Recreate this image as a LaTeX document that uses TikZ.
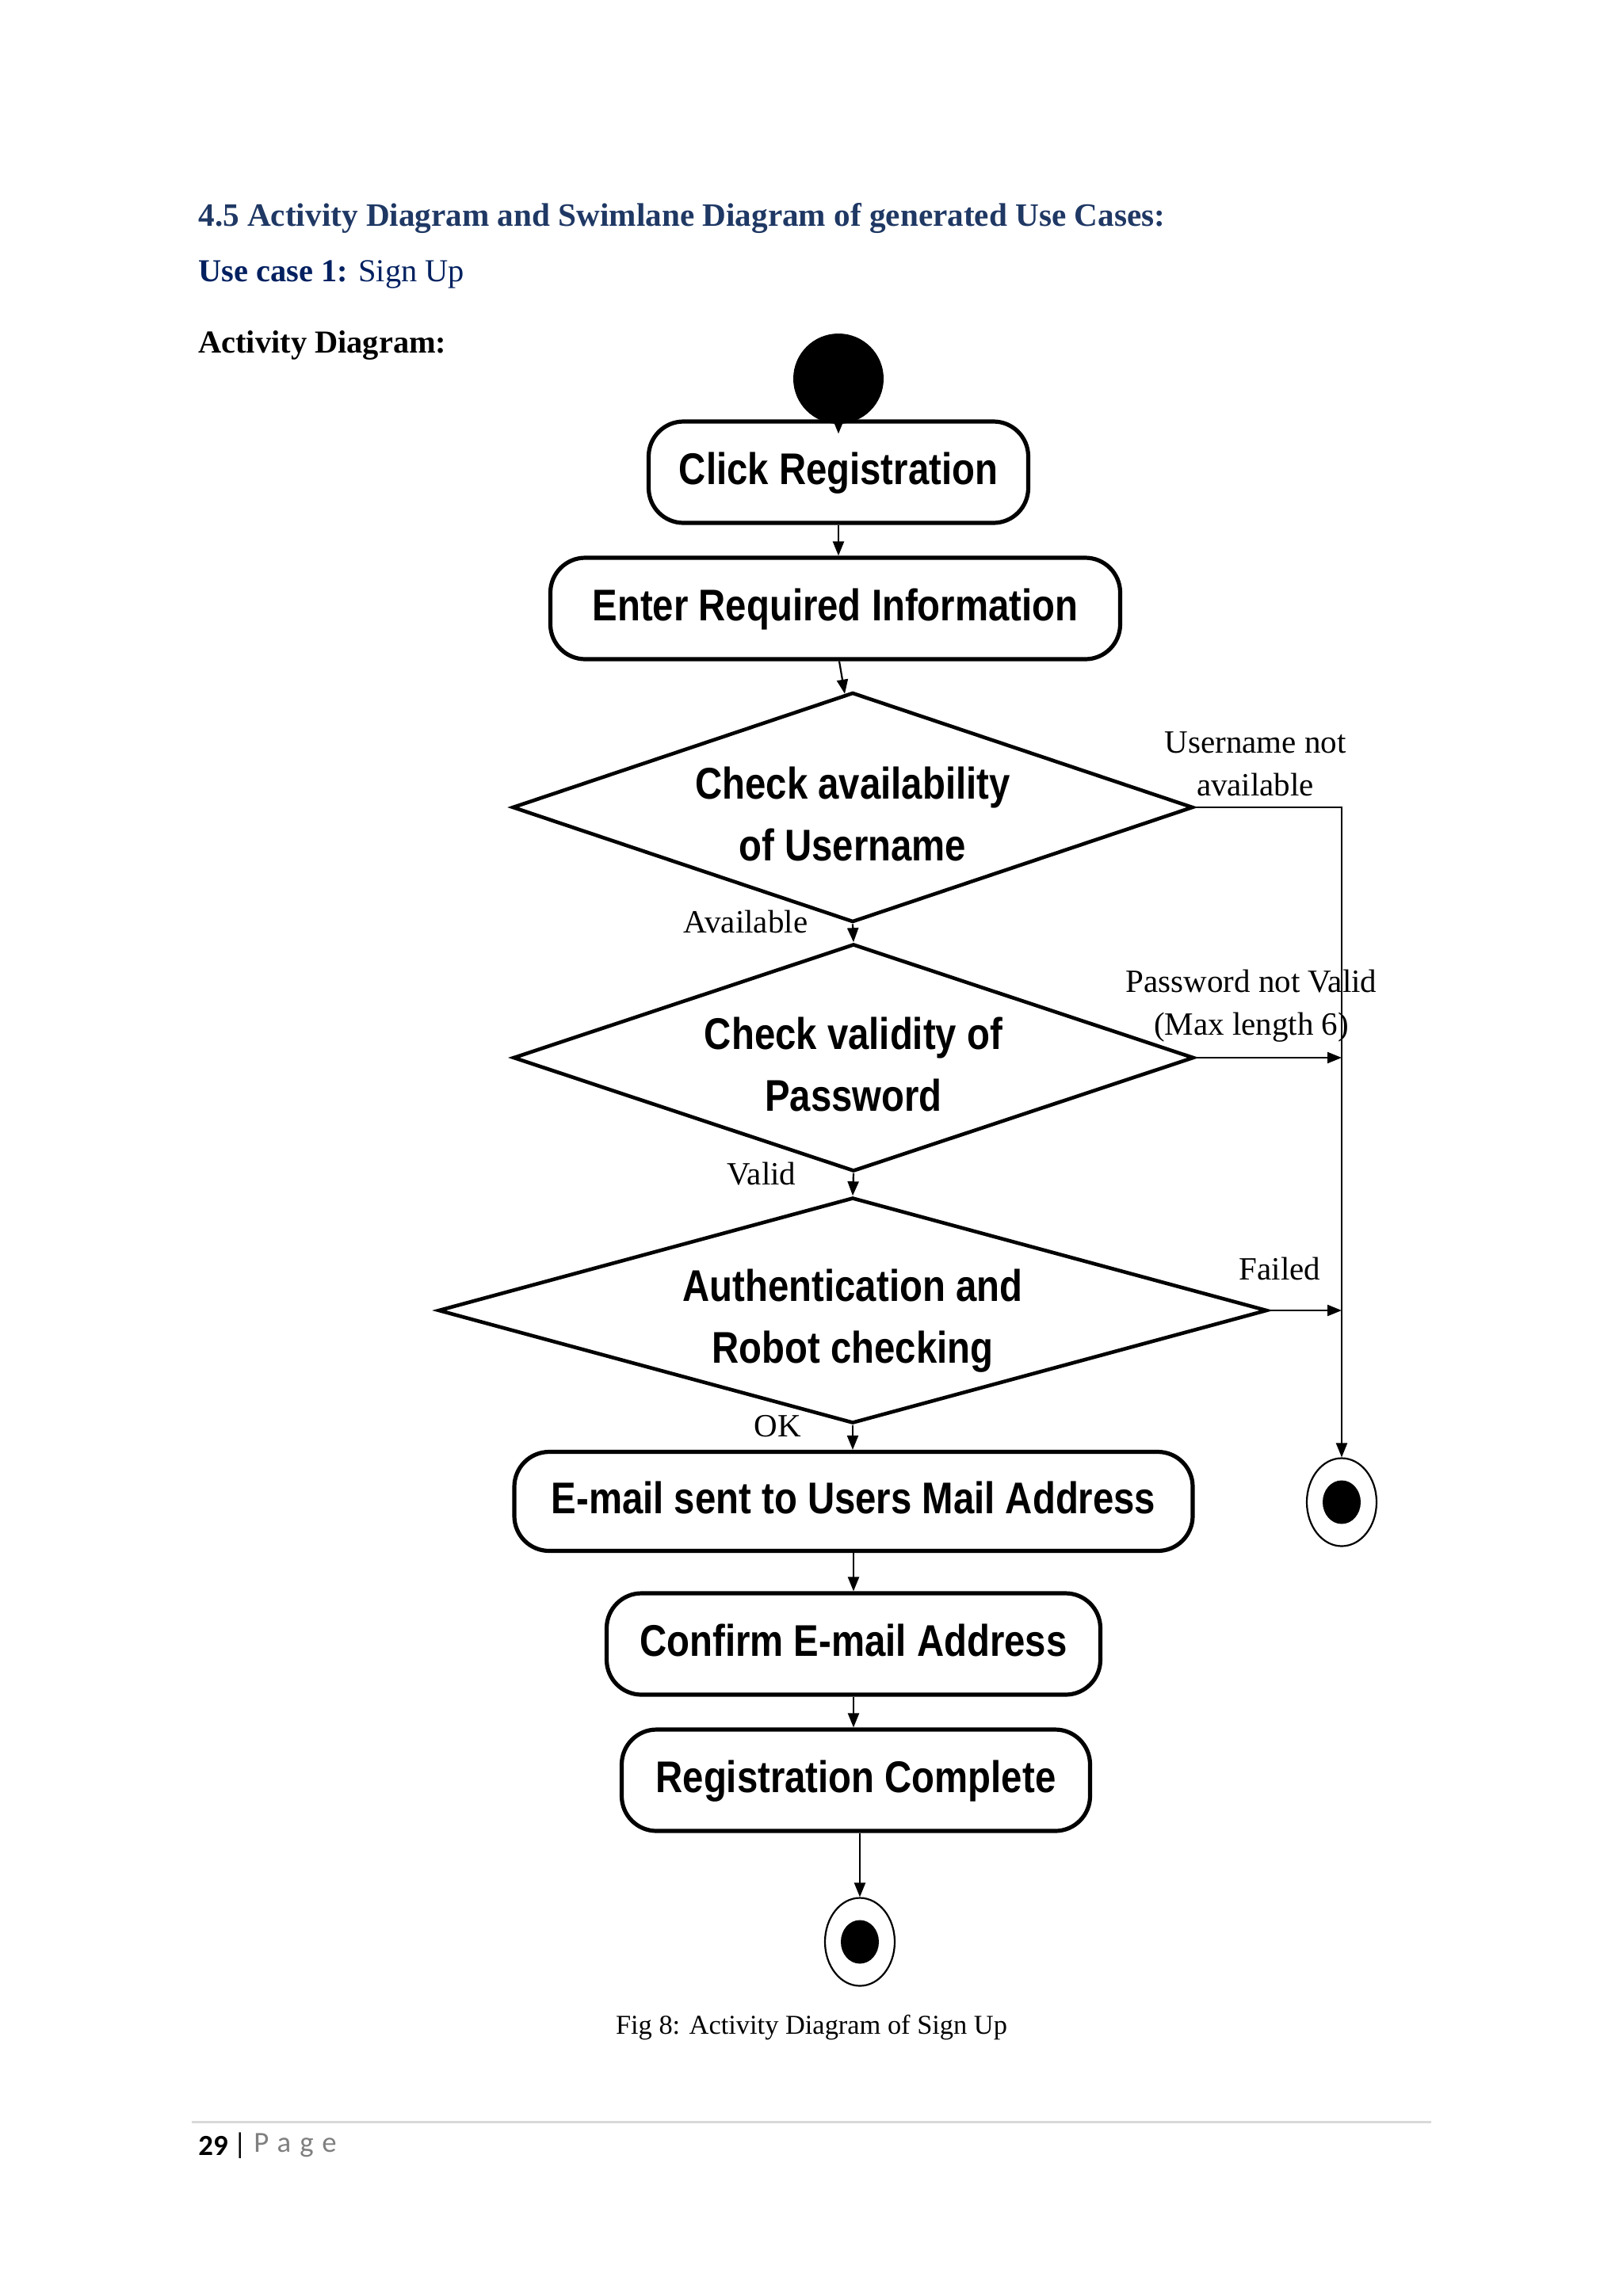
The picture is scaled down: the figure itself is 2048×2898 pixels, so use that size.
\documentclass[tikz,border=0pt]{standalone}
\usepackage{fontspec}
\setmainfont{Liberation Serif}
\newfontfamily\diag[FakeStretch=0.845]{Liberation Sans}
\newfontfamily\footfont{Carlito}
\newfontfamily\footspaced[LetterSpace=30]{Carlito}
\usetikzlibrary{shapes.geometric,arrows.meta,calc}
\definecolor{headblue}{RGB}{31,56,100}
\definecolor{ucblue}{RGB}{0,32,96}
\definecolor{pagegray}{RGB}{127,127,127}
\definecolor{rulegray}{RGB}{217,217,217}
\begin{document}
\begin{tikzpicture}[x=0.5pt,y=-0.5pt,
  act/.style={draw,line width=2.6pt,rounded corners=22pt,inner sep=0pt,minimum height=64pt,
    font=\diag\bfseries\fontsize{28}{39}\selectfont,align=center,execute at begin node=\strut},
  dec/.style={draw,diamond,line width=2.3pt,inner sep=0pt},
  dtext/.style={inner sep=0pt,font=\diag\bfseries\fontsize{28}{39}\selectfont,align=center},
  lbl/.style={font=\fontsize{20.5}{27}\selectfont,align=center,inner sep=0pt},
  arr/.style={line width=1.1pt,-{Triangle[length=9pt,width=7pt]}},
  finring/.style={ellipse,draw,line width=1.1pt,minimum width=44pt,minimum height=55.5pt,inner sep=0pt},
  findot/.style={ellipse,fill=black,minimum width=24pt,minimum height=27.5pt,inner sep=0pt},
]
\path[use as bounding box,fill=white] (0,0) rectangle (2048,2898);

% page texts
\node[anchor=base west,inner sep=0pt,text=headblue,font=\bfseries\fontsize{20.6}{24}\selectfont] (h1) at (250,285) {4.5 Activity Diagram and Swimlane Diagram of generated Use Cases:};
\node[anchor=base west,inner sep=0pt,text=ucblue,font=\fontsize{20.2}{24}\selectfont] (h2) at (250,355) {\textbf{Use case 1:} Sign Up};
\node[anchor=base west,inner sep=0pt,font=\bfseries\fontsize{20.2}{24}\selectfont] (h3) at (250,445) {Activity Diagram:};

% nodes
\node[circle,fill=black,minimum size=57pt,inner sep=0pt] (start) at (1058,478) {};
\node[act,minimum width=239.5pt] (click) at (1058,596) {Click Registration};
\node[act,minimum width=359.5pt] (enter) at (1054,768) {Enter Required Information};
\node[dec,minimum width=429.5pt,minimum height=145pt,aspect=2.96] (d1) at (1076,1019) {};
\node[dec,minimum width=429.5pt,minimum height=143.5pt,aspect=2.99] (d2) at (1077,1335) {};
\node[dec,minimum width=523pt,minimum height=142.5pt,aspect=3.67] (d3) at (1076,1654) {};
\node[dtext] (t1) at ([yshift=-6.5pt]d1.center) {\strut Check availability\\\strut of Username};
\node[dtext] (t2) at ([yshift=-6.5pt]d2.center) {\strut Check validity of\\\strut Password};
\node[dtext] (t3) at ([yshift=-6pt]d3.center) {\strut Authentication and\\\strut Robot checking};
\node[act,minimum width=428pt,minimum height=62.5pt] (email) at (1077,1895) {E-mail sent to Users Mail Address};
\node[act,minimum width=311.5pt] (confirm) at (1077,2075) {Confirm E-mail Address};
\node[act,minimum width=295.5pt] (done) at (1080,2247) {Registration Complete};
\node[finring] (fin1) at (1693,1896) {};
\node[findot] (fin1c) at (fin1) {};
\node[finring] (fin2) at (1085,2451) {};
\node[findot] (fin2c) at (fin2) {};

% connectors
\draw[arr] (start.south) -- ([yshift=-9pt]click.north);
\draw[arr] (click.south) -- (click.south |- enter.north);
\draw[arr] ([xshift=2.5pt]enter.south) -- ([xshift=-5pt,yshift=-2pt]d1.north);
\draw[arr] (d1.south) -- (d2.north);
\draw[arr] (d2.south) -- (d3.north);
\draw[arr] (d3.south) -- (d3.south |- email.north);
\draw[arr] (email.south) -- (email.south |- confirm.north);
\draw[arr] (confirm.south) -- (confirm.south |- done.north);
\draw[arr] (fin2.north |- done.south) -- (fin2.north);
\draw[arr] (d1.east) -- (d1.east -| fin1.north) -- (fin1.north);
\draw[arr] (d2.east) -- (d2.east -| fin1.north);
\draw[arr] (d3.east) -- (d3.east -| fin1.north);

% labels
\node[lbl] (lun) at (1584,964) {Username not\\available};
\node[lbl] (lpw) at (1579,1270) {Password not Valid\\(Max length 6)};
\node[lbl] (lav) at (941,1163) {Available};
\node[lbl] (lva) at (961,1482) {Valid};
\node[lbl] (lfa) at (1615,1601) {Failed};
\node[lbl] (lok) at (981,1800) {OK};

% caption
\node[anchor=base,inner sep=0pt,font=\fontsize{17.2}{20}\selectfont] (cap) at (1024,2567) {Fig 8: Activity Diagram of Sign Up};

% footer
\draw[rulegray,line width=1.5pt] (242,2678) -- (1806,2678);
\node[anchor=west,inner sep=0pt,font=\footfont\bfseries\fontsize{18.4}{22}\selectfont] (pgn) at (250,2708) {29};
\node[anchor=west,inner sep=0pt,font=\footfont\fontsize{18.4}{22}\selectfont] (bar) at (294,2708) {|};
\node[anchor=west,inner sep=0pt,text=pagegray,font=\footspaced\fontsize{18.4}{22}\selectfont] (pg) at (320,2708) {Page};
\end{tikzpicture}
\end{document}
